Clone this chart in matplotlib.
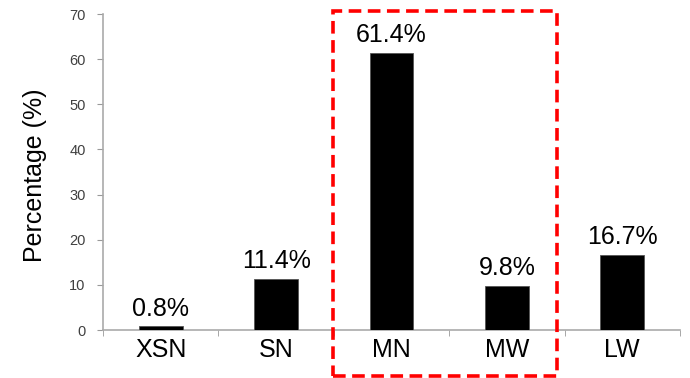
import matplotlib
matplotlib.use("Agg")
import matplotlib.pyplot as plt
from matplotlib.patches import Rectangle

categories = ["XSN", "SN", "MN", "MW", "LW"]
values = [0.8, 11.4, 61.4, 9.8, 16.7]
labels = ["0.8%", "11.4%", "61.4%", "9.8%", "16.7%"]
yticks = [0, 10, 20, 30, 40, 50, 60, 70]

plt.rcParams['font.family'] = ['Liberation Sans', 'DejaVu Sans']

fig = plt.figure(figsize=(6.9, 3.78), dpi=100)
ax = fig.add_axes([103/690, (378-330)/378, 577/690, 316/378])

x = list(range(len(categories)))
ax.bar(x, values, width=0.38, color='black', edgecolor='#555555', linewidth=0.6, zorder=3)
for xi, v, lab in zip(x, values, labels):
    ax.annotate(lab, (xi, v), xytext=(0, 4), textcoords='offset points',
                ha='center', va='bottom', fontsize=18, color='black')

ax.set_xlim(-0.5, len(categories) - 0.5)
ax.set_ylim(0, 70)
ax.set_yticks(yticks)
ax.set_yticklabels([str(t) for t in yticks], fontsize=10.5, color='#404040')
ax.set_xticks(x)
ax.set_xticklabels(categories, fontsize=18)
ax.tick_params(axis='x', length=0, pad=6)
ax.set_xticks([i - 0.5 for i in range(len(categories) + 1)], minor=True)
ax.tick_params(axis='x', which='minor', length=4, color='#999999', direction='out')
ax.tick_params(axis='y', length=4.5, color='#999999', pad=8)

for s in ['top', 'right']:
    ax.spines[s].set_visible(False)
for s in ['left', 'bottom']:
    ax.spines[s].set_color('#aaaaaa')
    ax.spines[s].set_linewidth(1.2)

ax.set_ylabel("Percentage (%)", fontsize=18)
ax.yaxis.set_label_coords(-0.097, 0.49)

# red dashed box highlighting MN and MW (figure coordinates)
box = Rectangle((333/690, (378-376)/378), (557-333)/690, (376-11)/378,
                transform=fig.transFigure, fill=False, edgecolor='#ff0000',
                linewidth=2.6, linestyle=(0, (3.5, 1.8)), clip_on=False)
fig.patches.append(box)

fig.savefig("out.png", dpi=100)
